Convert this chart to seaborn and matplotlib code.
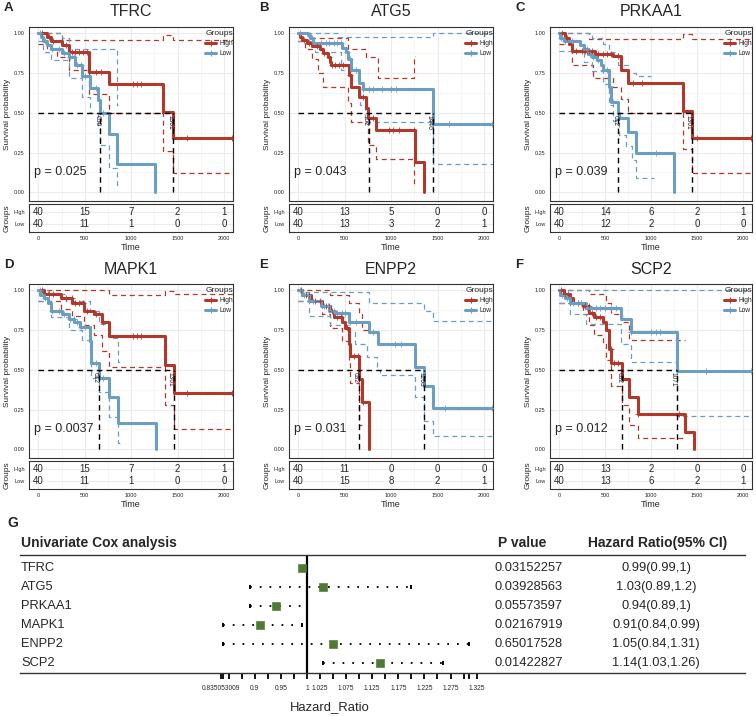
import matplotlib
matplotlib.use("Agg")
import matplotlib.pyplot as plt
from matplotlib.lines import Line2D
from matplotlib.transforms import blended_transform_factory
import seaborn as sns
import pandas as pd
import numpy as np

# ---------------- data ----------------
genes = ["TFRC", "ATG5", "PRKAA1", "MAPK1", "ENPP2", "SCP2"]
letters = ["A", "B", "C", "D", "E", "F"]
p_values = ["0.025", "0.043", "0.039", "0.0037", "0.031", "0.012"]

risk_times = [0, 500, 1000, 1500, 2000]
risk_high = [[40, 15, 7, 2, 1], [40, 13, 5, 0, 0], [40, 14, 6, 2, 1],
             [40, 15, 7, 2, 1], [40, 11, 0, 0, 0], [40, 13, 2, 0, 0]]
risk_low = [[40, 11, 1, 0, 0], [40, 13, 3, 2, 1], [40, 12, 2, 0, 0],
            [40, 11, 1, 0, 0], [40, 15, 8, 2, 1], [40, 13, 6, 2, 1]]

median_times = [[668, 1453], [757, 1446], [643, 1438], [650, 1461], [650, 1357], [686, 1275]]
median_labels = [["650", "1361"], ["752", "1446"], ["612", "1361"], ["612", "1361"],
                 ["632", "1263"], ["632", "1071"]]

# step curves as (time, survival) pairs, last pair = end of the line
tfrc_high = [(0, 1.0), (97, 0.975), (132, 0.95), (258, 0.925), (330, 0.88), (544, 0.755),
             (758, 0.68), (1346, 0.505), (1453, 0.34), (2090, 0.34)]
tfrc_low = [(0, 1.0), (25, 0.975), (54, 0.95), (96, 0.925), (132, 0.9), (250, 0.875), (330, 0.85),
            (400, 0.8), (471, 0.73), (553, 0.656), (643, 0.58), (668, 0.5), (757, 0.365),
            (846, 0.18), (1257, 0.0), (1257, 0.0)]
tfrc_high_up = [(0, 1.0), (250, 0.96), (1346, 0.99), (1453, 0.96), (2090, 0.96)]
tfrc_high_lo = [(0, 0.93), (97, 0.9), (200, 0.85), (330, 0.77), (544, 0.62), (758, 0.5),
                (1346, 0.26), (1453, 0.12), (2090, 0.12)]
tfrc_low_up = [(0, 1.0), (250, 0.97), (330, 0.9), (757, 0.9), (846, 0.55), (860, 0.55)]
tfrc_low_lo = [(0, 0.95), (54, 0.88), (132, 0.83), (330, 0.72), (471, 0.6), (553, 0.5),
               (643, 0.42), (668, 0.3), (757, 0.15), (846, 0.03), (860, 0.03)]
tfrc_high_cens = [40, 110, 160, 300, 360, 400, 440, 480, 520, 620, 680, 1020, 1060, 1100, 1600, 2080]
tfrc_low_cens = [15, 70, 150, 220, 280, 340, 380, 420, 460, 500, 620, 700]

atg5_high = [(0, 1.0), (18, 0.98), (36, 0.96), (89, 0.94), (143, 0.92), (232, 0.9), (268, 0.875),
             (321, 0.85), (339, 0.82), (357, 0.8), (546, 0.74), (564, 0.66), (650, 0.6),
             (732, 0.53), (750, 0.47), (839, 0.39), (1260, 0.19), (1357, 0.0), (1357, 0.0)]
atg5_low = [(0, 1.0), (100, 0.99), (125, 0.97), (160, 0.94), (471, 0.91), (518, 0.88),
            (536, 0.84), (571, 0.77), (650, 0.69), (696, 0.65), (1446, 0.43), (2090, 0.43)]
atg5_high_up = [(0, 1.0), (107, 0.97), (536, 0.9), (732, 0.85), (857, 0.72), (1250, 0.86), (1260, 0.86)]
atg5_high_lo = [(0, 0.95), (71, 0.9), (143, 0.84), (214, 0.75), (268, 0.66), (536, 0.56),
                (571, 0.44), (750, 0.3), (839, 0.21), (1250, 0.05), (1260, 0.05)]
atg5_low_up = [(0, 1.0), (429, 0.975), (1446, 1.0), (2090, 1.0)]
atg5_low_lo = [(0, 0.95), (179, 0.88), (464, 0.77), (571, 0.66), (661, 0.55), (714, 0.44),
               (1446, 0.18), (2090, 0.18)]
atg5_high_cens = [60, 120, 200, 280, 330, 360, 400, 440, 480, 560, 700, 760, 800, 980, 1020, 1080, 1240]
atg5_low_cens = [20, 150, 240, 300, 330, 380, 420, 460, 520, 560, 620, 700, 760, 800, 900, 1000,
                 1050, 1620, 2080]

prkaa1_high = [(0, 1.0), (60, 0.97), (106, 0.93), (141, 0.89), (389, 0.87), (583, 0.855),
               (671, 0.77), (753, 0.685), (1343, 0.51), (1438, 0.34), (2090, 0.34)]
prkaa1_low = [(0, 1.0), (11, 0.97), (53, 0.95), (230, 0.925), (265, 0.9), (318, 0.87), (353, 0.85),
              (407, 0.83), (459, 0.8), (477, 0.77), (541, 0.66), (565, 0.57), (636, 0.5),
              (654, 0.47), (753, 0.38), (830, 0.25), (1247, 0.0), (1247, 0.0)]
prkaa1_high_up = [(0, 1.0), (325, 0.965), (1343, 0.995), (1438, 0.965), (2090, 0.965)]
prkaa1_high_lo = [(0, 0.93), (141, 0.8), (371, 0.72), (583, 0.66), (671, 0.59), (753, 0.5),
                  (1343, 0.27), (1438, 0.12), (2090, 0.12)]
prkaa1_low_up = [(0, 1.0), (353, 0.97), (477, 0.93), (541, 0.88), (636, 0.8), (753, 0.75),
                 (830, 0.73), (1000, 0.73)]
prkaa1_low_lo = [(0, 0.89), (265, 0.82), (353, 0.76), (477, 0.68), (541, 0.55), (583, 0.45),
                 (654, 0.36), (724, 0.29), (795, 0.2), (830, 0.09), (1025, 0.09)]
prkaa1_high_cens = [30, 90, 180, 250, 280, 300, 320, 360, 420, 480, 520, 560, 640, 800, 900, 1500, 2080]
prkaa1_low_cens = [20, 60, 140, 300, 330, 370, 420, 480, 520, 580, 1050]

mapk1_high = [(0, 1.0), (60, 0.975), (239, 0.95), (364, 0.92), (489, 0.87), (600, 0.85),
              (686, 0.8), (764, 0.71), (1364, 0.53), (1461, 0.355), (2090, 0.355)]
mapk1_low = [(0, 1.0), (20, 0.97), (60, 0.95), (100, 0.92), (132, 0.87), (250, 0.85), (329, 0.82),
             (382, 0.8), (453, 0.77), (561, 0.68), (571, 0.54), (650, 0.45), (764, 0.33),
             (857, 0.165), (1264, 0.0), (1264, 0.0)]
mapk1_high_up = [(0, 1.0), (757, 0.97), (1364, 0.995), (1461, 0.975), (2090, 0.975)]
mapk1_high_lo = [(0, 0.93), (239, 0.88), (364, 0.84), (489, 0.78), (596, 0.72), (686, 0.62),
                 (764, 0.52), (1364, 0.28), (1461, 0.13), (2090, 0.13)]
mapk1_low_up = [(0, 1.0), (100, 0.98), (300, 0.93), (561, 0.87), (650, 0.79), (764, 0.7),
                (857, 0.55), (880, 0.55)]
mapk1_low_lo = [(0, 0.93), (132, 0.83), (329, 0.75), (471, 0.69), (561, 0.6), (571, 0.45),
                (650, 0.36), (764, 0.2), (857, 0.04), (880, 0.04)]
mapk1_high_cens = [40, 110, 160, 300, 360, 400, 440, 480, 520, 620, 700, 1020, 1060, 1100, 1600, 2080]
mapk1_low_cens = [15, 70, 150, 220, 280, 340, 380, 420, 460, 500, 620, 700]

enpp2_high = [(0, 1.0), (43, 0.97), (132, 0.93), (257, 0.9), (346, 0.87), (382, 0.83), (471, 0.8),
              (500, 0.76), (543, 0.66), (561, 0.59), (650, 0.44), (686, 0.3), (764, 0.0), (764, 0.0)]
enpp2_low = [(0, 1.0), (43, 0.97), (114, 0.93), (239, 0.9), (329, 0.87), (400, 0.86), (550, 0.8),
             (757, 0.74), (857, 0.66), (1257, 0.52), (1357, 0.4), (1453, 0.26), (2090, 0.26)]
enpp2_high_up = [(0, 1.0), (346, 0.97), (543, 0.92), (650, 0.85), (686, 0.75), (764, 0.75)]
enpp2_high_lo = [(0, 0.93), (257, 0.85), (346, 0.76), (471, 0.68), (543, 0.55), (561, 0.42),
                 (650, 0.15), (686, 0.15)]
enpp2_low_up = [(0, 1.0), (50, 0.99), (757, 0.92), (1357, 0.87), (1453, 0.81), (2090, 0.81)]
enpp2_low_lo = [(0, 0.93), (114, 0.84), (346, 0.78), (543, 0.74), (607, 0.66), (736, 0.58),
                (843, 0.5), (879, 0.47), (1257, 0.33), (1357, 0.18), (1453, 0.085), (2090, 0.085)]
enpp2_high_cens = [30, 80, 120, 180, 230, 300, 330, 360, 420, 460, 520, 600, 640, 700]
enpp2_low_cens = [20, 60, 100, 160, 280, 320, 380, 420, 470, 500, 560, 620, 800, 1040, 1100, 1580, 2080]

scp2_high = [(0, 1.0), (54, 0.98), (114, 0.95), (150, 0.92), (257, 0.9), (329, 0.86), (382, 0.83),
             (471, 0.8), (507, 0.75), (541, 0.63), (561, 0.54), (686, 0.44), (757, 0.33),
             (857, 0.22), (1364, 0.11), (1464, 0.0), (1464, 0.0)]
scp2_low = [(0, 1.0), (7, 0.97), (61, 0.95), (114, 0.92), (293, 0.89), (668, 0.82), (775, 0.74),
            (1275, 0.49), (2090, 0.49)]
scp2_high_up = [(0, 1.0), (329, 0.98), (507, 0.92), (561, 0.85), (686, 0.8), (757, 0.69), (1364, 0.69)]
scp2_high_lo = [(0, 0.92), (257, 0.85), (329, 0.78), (382, 0.72), (471, 0.66), (507, 0.56),
                (561, 0.4), (686, 0.28), (757, 0.15), (857, 0.07), (1364, 0.07)]
scp2_low_up = [(0, 1.0), (2090, 1.0)]
scp2_low_lo = [(0, 0.92), (114, 0.85), (293, 0.79), (668, 0.66), (775, 0.55), (1275, 0.21), (2090, 0.21)]
scp2_high_cens = [20, 60, 100, 200, 280, 320, 360, 400, 440, 560, 600, 640, 860, 1300]
scp2_low_cens = [30, 90, 150, 200, 240, 300, 340, 400, 440, 500, 560, 620, 780, 1000, 1050, 1100, 1600, 2080]

panels = [
    (tfrc_high, tfrc_low, tfrc_high_up, tfrc_high_lo, tfrc_low_up, tfrc_low_lo, tfrc_high_cens, tfrc_low_cens),
    (atg5_high, atg5_low, atg5_high_up, atg5_high_lo, atg5_low_up, atg5_low_lo, atg5_high_cens, atg5_low_cens),
    (prkaa1_high, prkaa1_low, prkaa1_high_up, prkaa1_high_lo, prkaa1_low_up, prkaa1_low_lo,
     prkaa1_high_cens, prkaa1_low_cens),
    (mapk1_high, mapk1_low, mapk1_high_up, mapk1_high_lo, mapk1_low_up, mapk1_low_lo,
     mapk1_high_cens, mapk1_low_cens),
    (enpp2_high, enpp2_low, enpp2_high_up, enpp2_high_lo, enpp2_low_up, enpp2_low_lo,
     enpp2_high_cens, enpp2_low_cens),
    (scp2_high, scp2_low, scp2_high_up, scp2_high_lo, scp2_low_up, scp2_low_lo, scp2_high_cens, scp2_low_cens),
]

# univariate cox table
cox_genes = ["TFRC", "ATG5", "PRKAA1", "MAPK1", "ENPP2", "SCP2"]
cox_hr = [0.99, 1.03, 0.94, 0.91, 1.05, 1.14]
cox_lower = [0.99, 0.89, 0.89, 0.84, 0.84, 1.03]
cox_upper = [1.0, 1.2, 1.0, 0.99, 1.31, 1.26]
cox_p = ["0.03152257", "0.03928563", "0.05573597", "0.02167919", "0.65017528", "0.01422827"]
cox_ci_text = ["0.99(0.99,1)", "1.03(0.89,1.2)", "0.94(0.89,1)", "0.91(0.84,0.99)",
               "1.05(0.84,1.31)", "1.14(1.03,1.26)"]
hr_ticks = [0.835053009, 0.84, 0.85, 0.875, 0.9, 0.925, 0.95, 0.975, 1.0, 1.025, 1.05, 1.075, 1.1,
            1.125, 1.15, 1.175, 1.2, 1.225, 1.25, 1.275, 1.3, 1.31, 1.325]
hr_labels = {0.835053009: "0.835053009", 0.9: "0.9", 0.95: "0.95", 1.0: "1", 1.025: "1.025",
             1.075: "1.075", 1.125: "1.125", 1.175: "1.175", 1.225: "1.225", 1.275: "1.275",
             1.325: "1.325"}

# ---------------- style ----------------
RED = "#B2382B"
BLUE = "#6A9EC2"
GREEN = "#4D7A34"
GRID = "#EBEBEB"

sns.set_theme(style="white")
plt.rcParams["font.family"] = ["Liberation Sans", "DejaVu Sans"]

W, H = 756, 716
fig = plt.figure(figsize=(W / 100, H / 100), dpi=100)


def px_axes(x0, y0, x1, y1):
    return fig.add_axes([x0 / W, 1 - y1 / H, (x1 - x0) / W, (y1 - y0) / H])


def fig_text(x, y, s, **kw):
    fig.text(x / W, 1 - y / H, s, **kw)


def to_frame(pts, group, curve):
    return pd.DataFrame({"time": [p[0] for p in pts], "surv": [p[1] for p in pts],
                         "group": group, "curve": curve})


def step_value(pts, t):
    ts = np.array([p[0] for p in pts])
    ss = np.array([p[1] for p in pts])
    return ss[np.searchsorted(ts, t, side="right") - 1]


cols = [(29, 233), (289, 493), (550, 752)]
rows_main = [(27, 201), (284, 458)]
rows_tab = [(204, 232), (461, 489)]
title_y = [12, 269]
XLIM = (-100, 2095)
pal = {"High": RED, "Low": BLUE}

for i, gene in enumerate(genes):
    r, c = divmod(i, 3)
    x0, x1 = cols[c]
    y0, y1 = rows_main[r]
    ax = px_axes(x0, y0, x1, y1)
    tab = px_axes(x0, rows_tab[r][0], x1, rows_tab[r][1])
    high, low, hup, hlo, lup, llo, hcens, lcens = panels[i]

    main = pd.concat([to_frame(high, "High", "main"), to_frame(low, "Low", "main")])
    ci = pd.concat([to_frame(hup, "High", "up"), to_frame(hlo, "High", "lo"),
                    to_frame(lup, "Low", "up"), to_frame(llo, "Low", "lo")])
    ci["unit"] = ci["group"] + ci["curve"]

    sns.lineplot(data=ci, x="time", y="surv", hue="group", units="unit", estimator=None,
                 palette=pal, drawstyle="steps-post", linestyle=(0, (4, 3)), lw=0.9,
                 legend=False, sort=False, ax=ax)
    sns.lineplot(data=main, x="time", y="surv", hue="group", estimator=None, palette=pal,
                 drawstyle="steps-post", lw=2.2, legend=False, sort=False, ax=ax)
    for pts, cens, grp in [(high, hcens, "High"), (low, lcens, "Low")]:
        sns.scatterplot(x=cens, y=[step_value(pts, t) for t in cens], marker="+", color=pal[grp],
                        s=14, linewidth=0.6, ax=ax, zorder=5)

    meds = median_times[i]
    ax.hlines(0.5, 0, max(meds), colors="black", linestyles=(0, (4, 3)), lw=1.0, zorder=6)
    ax.vlines(meds, 0, 0.5, colors="black", linestyles=(0, (4, 3)), lw=1.0, zorder=6)
    for m, lab in zip(meds, median_labels[i]):
        ax.text(m - 40, 0.485, lab, rotation=270, ha="center", va="top", fontsize=4.8, color="#222222")

    ax.text(-45, 0.125, f"p = {p_values[i]}", fontsize=9, va="center", ha="left")

    ax.set_xlim(XLIM)
    ax.set_ylim(-0.055, 1.04)
    ax.set_xticks(risk_times)
    ax.set_xticklabels([])
    ax.set_xticks([250, 750, 1250, 1750], minor=True)
    ax.set_yticks([0, 0.25, 0.5, 0.75, 1.0])
    ax.set_yticklabels(["0.00", "0.25", "0.50", "0.75", "1.00"])
    ax.set_yticks([0.125, 0.375, 0.625, 0.875], minor=True)
    ax.tick_params(axis="x", which="both", length=0)
    ax.tick_params(axis="y", which="major", length=2, width=0.5, labelsize=4, pad=1, color="#333333")
    ax.tick_params(axis="y", which="minor", length=0)
    ax.grid(which="major", color=GRID, lw=0.8)
    ax.grid(which="minor", color="#F3F3F3", lw=0.5)
    ax.set_axisbelow(True)
    ax.set_xlabel("")
    ax.set_ylabel("Survival probability", fontsize=6, labelpad=2)
    for sp in ax.spines.values():
        sp.set_color("#333333")
        sp.set_linewidth(0.8)

    handles = [Line2D([], [], color=RED, lw=2.2, marker="+", markersize=4, markeredgewidth=0.8),
               Line2D([], [], color=BLUE, lw=2.2, marker="+", markersize=4, markeredgewidth=0.8)]
    leg = ax.legend(handles, ["High", "Low"], title="Groups", loc="upper right",
                    bbox_to_anchor=(1.03, 1.02), frameon=False, fontsize=4.8, title_fontsize=6,
                    handlelength=1.6, handletextpad=0.5, labelspacing=0.5)
    leg._legend_box.align = "left"

    # risk table
    for yv, counts in [(2, risk_high[i]), (1, risk_low[i])]:
        for t, n in zip(risk_times, counts):
            tab.text(t, yv, str(n), ha="center", va="center", fontsize=7)
    tab.set_xlim(XLIM)
    tab.set_ylim(0.3, 2.7)
    tab.set_xticks(risk_times)
    tab.set_xticklabels([str(t) for t in risk_times])
    tab.set_xticks([250, 750, 1250, 1750], minor=True)
    tab.set_yticks([1, 2])
    tab.set_yticklabels(["Low", "High"])
    tab.tick_params(axis="both", which="major", length=2, width=0.5, labelsize=4, pad=1, color="#333333")
    tab.tick_params(which="minor", length=0)
    tab.grid(axis="x", which="major", color=GRID, lw=0.8)
    tab.grid(axis="x", which="minor", color="#F3F3F3", lw=0.5)
    tab.grid(axis="y", which="major", color=GRID, lw=0.8)
    tab.set_axisbelow(True)
    tab.set_xlabel("Time", fontsize=6.5, labelpad=1)
    tab.set_ylabel("Groups", fontsize=6, labelpad=2)
    for sp in tab.spines.values():
        sp.set_color("#333333")
        sp.set_linewidth(0.8)

    fig_text((x0 + x1) / 2, title_y[r], gene, fontsize=11.5, ha="center", va="center")
    fig_text([4, 259, 515][c], title_y[r] - 4, letters[i], fontsize=9.5, fontweight="bold",
             ha="left", va="center")

# ---------------- forest plot (G) ----------------
axf = px_axes(20, 555, 745, 673)
px_per_unit = 522
axf.set_xlim(1 - (307 - 20) / px_per_unit, 1 + (745 - 307) / px_per_unit)
axf.set_ylim(len(cox_genes) - 0.47, -0.68)
rows = list(range(len(cox_genes)))

axf.hlines(rows, cox_lower, cox_upper, colors="black", linestyles=(0, (1, 4.4)), lw=1.3)
sns.scatterplot(x=cox_lower + cox_upper, y=rows + rows, marker="|", color="black", s=12,
                linewidth=1.4, ax=axf, zorder=3)
axf.axvline(1, color="black", lw=1.6, zorder=2)
sns.scatterplot(x=cox_hr, y=rows, marker="s", color=GREEN, s=30, edgecolor=GREEN, ax=axf, zorder=4)

axf.set_xticks(hr_ticks)
axf.set_xticklabels([hr_labels.get(t, "") for t in hr_ticks])
axf.tick_params(axis="x", direction="out", length=4.5, width=1.3, labelsize=4.8, pad=4, color="black",
                bottom=True)
axf.set_yticks([])
axf.set_xlabel("")
axf.set_ylabel("")
for side in ["left", "right"]:
    axf.spines[side].set_visible(False)
for side in ["top", "bottom"]:
    axf.spines[side].set_color("#333333")
    axf.spines[side].set_linewidth(1.0)

tr = blended_transform_factory(fig.transFigure, axf.transData)
for r_, g in enumerate(cox_genes):
    axf.text(21 / W, r_, g, transform=tr, fontsize=9.3, va="center", ha="left")
    axf.text(494 / W, r_, cox_p[r_], transform=tr, fontsize=9.3, va="center", ha="left")
    axf.text(656 / W, r_, cox_ci_text[r_], transform=tr, fontsize=9.3, va="center", ha="center")

fig_text(7, 523, "G", fontsize=10, fontweight="bold", ha="left", va="center")
fig_text(21, 543, "Univariate Cox analysis", fontsize=10, fontweight="bold", ha="left", va="center")
fig_text(498, 543, "P value", fontsize=10, fontweight="bold", ha="left", va="center")
fig_text(658, 543, "Hazard Ratio(95% CI)", fontsize=10, fontweight="bold", ha="center", va="center")
fig_text(330, 707, "Hazard_Ratio", fontsize=9.4, ha="center", va="center")

fig.savefig("out.png", dpi=100)
